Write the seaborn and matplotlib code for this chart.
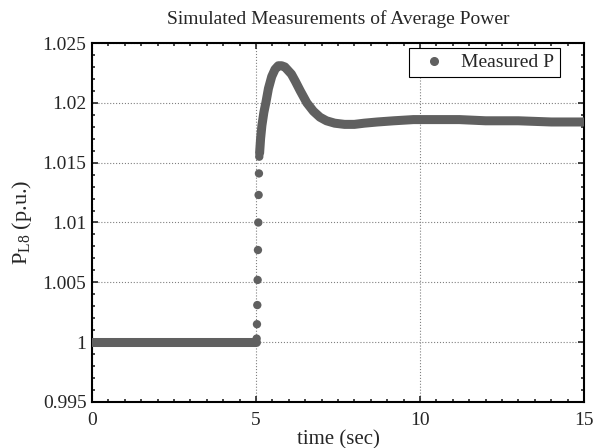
import numpy as np
import pandas as pd
import matplotlib
matplotlib.use("Agg")
import matplotlib.pyplot as plt
from matplotlib.lines import Line2D
from matplotlib.ticker import MultipleLocator, FuncFormatter
import seaborn as sb

# flat part before the disturbance
t_flat = [0.0, 5.01]
p_flat = [1.0, 1.0]

# sparse samples during the fast jump
t_jump = [5.02, 5.03, 5.04, 5.05, 5.06, 5.07, 5.08, 5.09, 5.10]
p_jump = [1.0003, 1.0015, 1.0031, 1.0052, 1.0077, 1.0100, 1.0123, 1.0141, 1.0155]

# response after the jump
t_resp = [5.11, 5.14, 5.18, 5.24, 5.30, 5.38, 5.48, 5.58, 5.68, 5.78, 5.88,
          5.98, 6.08, 6.20, 6.35, 6.55, 6.75, 6.95, 7.15, 7.40, 7.70, 8.00,
          8.30, 8.70, 9.20, 9.80, 10.50, 11.20, 12.00, 13.00, 14.00, 15.00]
p_resp = [1.0158, 1.0170, 1.0181, 1.0192, 1.0200, 1.0212, 1.0222, 1.0228,
          1.0231, 1.0231, 1.0230, 1.0227, 1.0224, 1.0218, 1.0210, 1.0200,
          1.0193, 1.0188, 1.0185, 1.0183, 1.0182, 1.0182, 1.0183, 1.0184,
          1.0185, 1.0186, 1.0186, 1.0186, 1.0185, 1.0185, 1.0184, 1.0184]

x_ticks = [0, 5, 10, 15]
y_ticks = [0.995, 1.0, 1.005, 1.01, 1.015, 1.02, 1.025]

sb.set_style("ticks")
plt.rcParams['font.family'] = ['Liberation Serif', 'DejaVu Serif']
plt.rcParams['mathtext.fontset'] = 'custom'
plt.rcParams['mathtext.rm'] = 'Liberation Serif'
plt.rcParams['mathtext.it'] = 'Liberation Serif:italic'

col = '#606060'

fig = plt.figure(figsize=(5.95, 4.48), dpi=100)
ax = fig.add_axes([0.1546, 0.1027, 0.8269, 0.8013])

flat = pd.DataFrame({'t': t_flat, 'P': p_flat})
resp = pd.DataFrame({'t': t_resp, 'P': p_resp})
jump = pd.DataFrame({'t': t_jump, 'P': p_jump})

for d in (flat, resp):
    sb.lineplot(data=d, x='t', y='P', ax=ax, color=col, linewidth=6.5,
                sort=False, estimator=None, solid_capstyle='round',
                solid_joinstyle='round', zorder=3)
sb.scatterplot(data=jump, x='t', y='P', ax=ax, color=col, s=36,
               edgecolor='none', zorder=3)

ax.set_xlim(0, 15)
ax.set_ylim(0.995, 1.025)
ax.set_xticks(x_ticks)
ax.set_yticks(y_ticks)
ax.xaxis.set_minor_locator(MultipleLocator(0.5))
ax.yaxis.set_minor_locator(MultipleLocator(0.001))
ax.yaxis.set_major_formatter(FuncFormatter(lambda v, p: f'{v:g}'))
ax.xaxis.set_major_formatter(FuncFormatter(lambda v, p: f'{v:g}'))
ax.tick_params(which='both', direction='in', top=True, right=True,
               width=1.2, labelsize=14)
ax.tick_params(axis='y', pad=4)
ax.tick_params(axis='x', pad=7)
ax.tick_params(which='major', length=4)
ax.tick_params(which='minor', length=2)
for s in ax.spines.values():
    s.set_linewidth(1.5)
    s.set_color('black')
ax.grid(True, which='major', linestyle=':', color='#808080', linewidth=0.8)

ax.set_title("Simulated Measurements of Average Power", fontsize=14, pad=14)
ax.set_xlabel("time (sec)", fontsize=15, labelpad=1)
ax.set_ylabel(r"P$_{\mathrm{L8}}$ (p.u.)", fontsize=16, labelpad=6)

h = Line2D([], [], linestyle='none', marker='o', color=col, markersize=5.5)
leg = ax.legend([h], ['Measured P'], loc='upper right', fontsize=14,
                frameon=True, fancybox=False, edgecolor='black',
                framealpha=1, borderpad=0.3, handletextpad=0.4,
                borderaxespad=0, bbox_to_anchor=(0.951, 0.986))
leg.get_frame().set_linewidth(0.8)

fig.savefig('out.png', dpi=100)
